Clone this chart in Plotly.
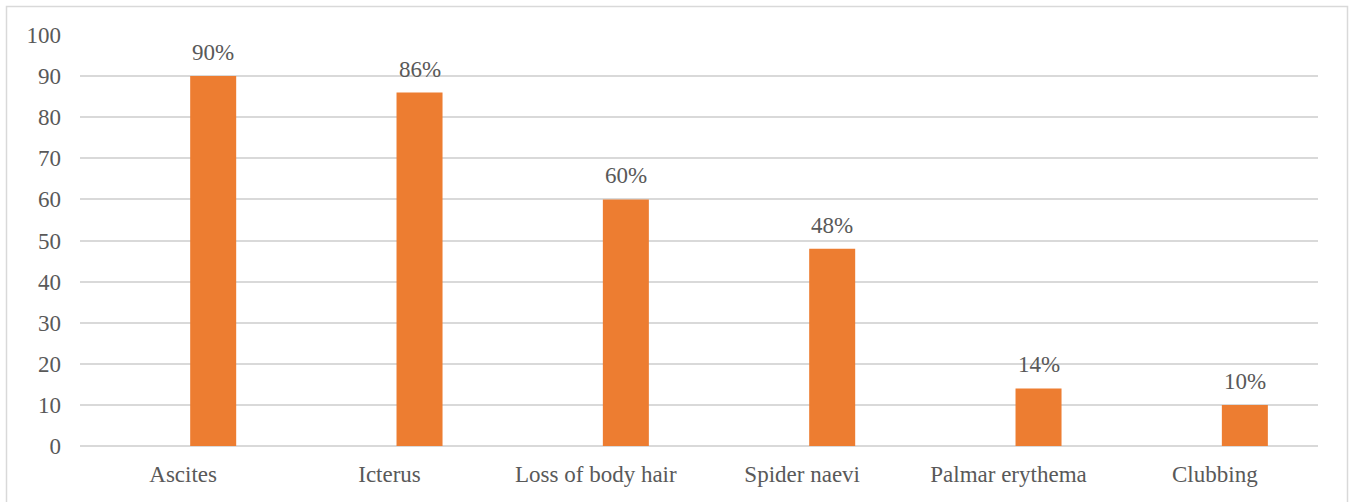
import plotly.graph_objects as go

categories = ["Ascites", "Icterus", "Loss of body hair", "Spider naevi", "Palmar erythema", "Clubbing"]
values = [90, 86, 60, 48, 14, 10]
labels = ["90%", "86%", "60%", "48%", "14%", "10%"]
y_ticks = [0, 10, 20, 30, 40, 50, 60, 70, 80, 90, 100]

W, H = 1351, 502
L, R, T, B = 80, 33, 35, 56
FONT = "Liberation Serif"
GRAY = "#595959"
BAR_OFFSET = 0.034
BAR_WIDTH = 0.223

fig = go.Figure()
fig.add_trace(go.Bar(
    x=categories, y=values,
    offset=BAR_OFFSET, width=BAR_WIDTH,
    marker=dict(color="#ED7D31", line=dict(width=0)),
    hoverinfo="x+y",
))

for i, (v, t) in enumerate(zip(values, labels)):
    fig.add_annotation(
        x=i + BAR_OFFSET + BAR_WIDTH / 2, y=v, xref="x", yref="y",
        text=t, showarrow=False, yanchor="bottom", yshift=9,
        font=dict(family=FONT, size=23, color=GRAY),
    )

pw = W - L - R
ph = H - T - B
fig.add_shape(
    type="rect", xref="paper", yref="paper",
    x0=(6.5 - L) / pw, x1=(1347.5 - L) / pw,
    y0=(H - B - 520) / ph, y1=(H - B - 6.5) / ph,
    line=dict(color="#D9D9D9", width=1.5), fillcolor="rgba(0,0,0,0)",
    layer="below",
)

fig.update_layout(
    width=W, height=H,
    margin=dict(l=L, r=R, t=T, b=B, pad=0),
    paper_bgcolor="white", plot_bgcolor="white",
    showlegend=False,
    font=dict(family=FONT, size=23, color=GRAY),
    xaxis=dict(
        type="category", range=[-0.5, 5.5],
        showgrid=False, zeroline=False, showline=False,
        ticks="", ticklabelstandoff=12,
        tickfont=dict(family=FONT, size=23, color=GRAY),
    ),
    yaxis=dict(
        range=[0, 100], tickvals=y_ticks,
        showgrid=True, gridcolor="#D9D9D9", gridwidth=1.5,
        zeroline=True, zerolinecolor="#D9D9D9", zerolinewidth=1.5,
        showline=False, ticks="", ticklabelstandoff=18,
        tickfont=dict(family=FONT, size=23, color=GRAY),
    ),
)

fig.write_html("out.html")
